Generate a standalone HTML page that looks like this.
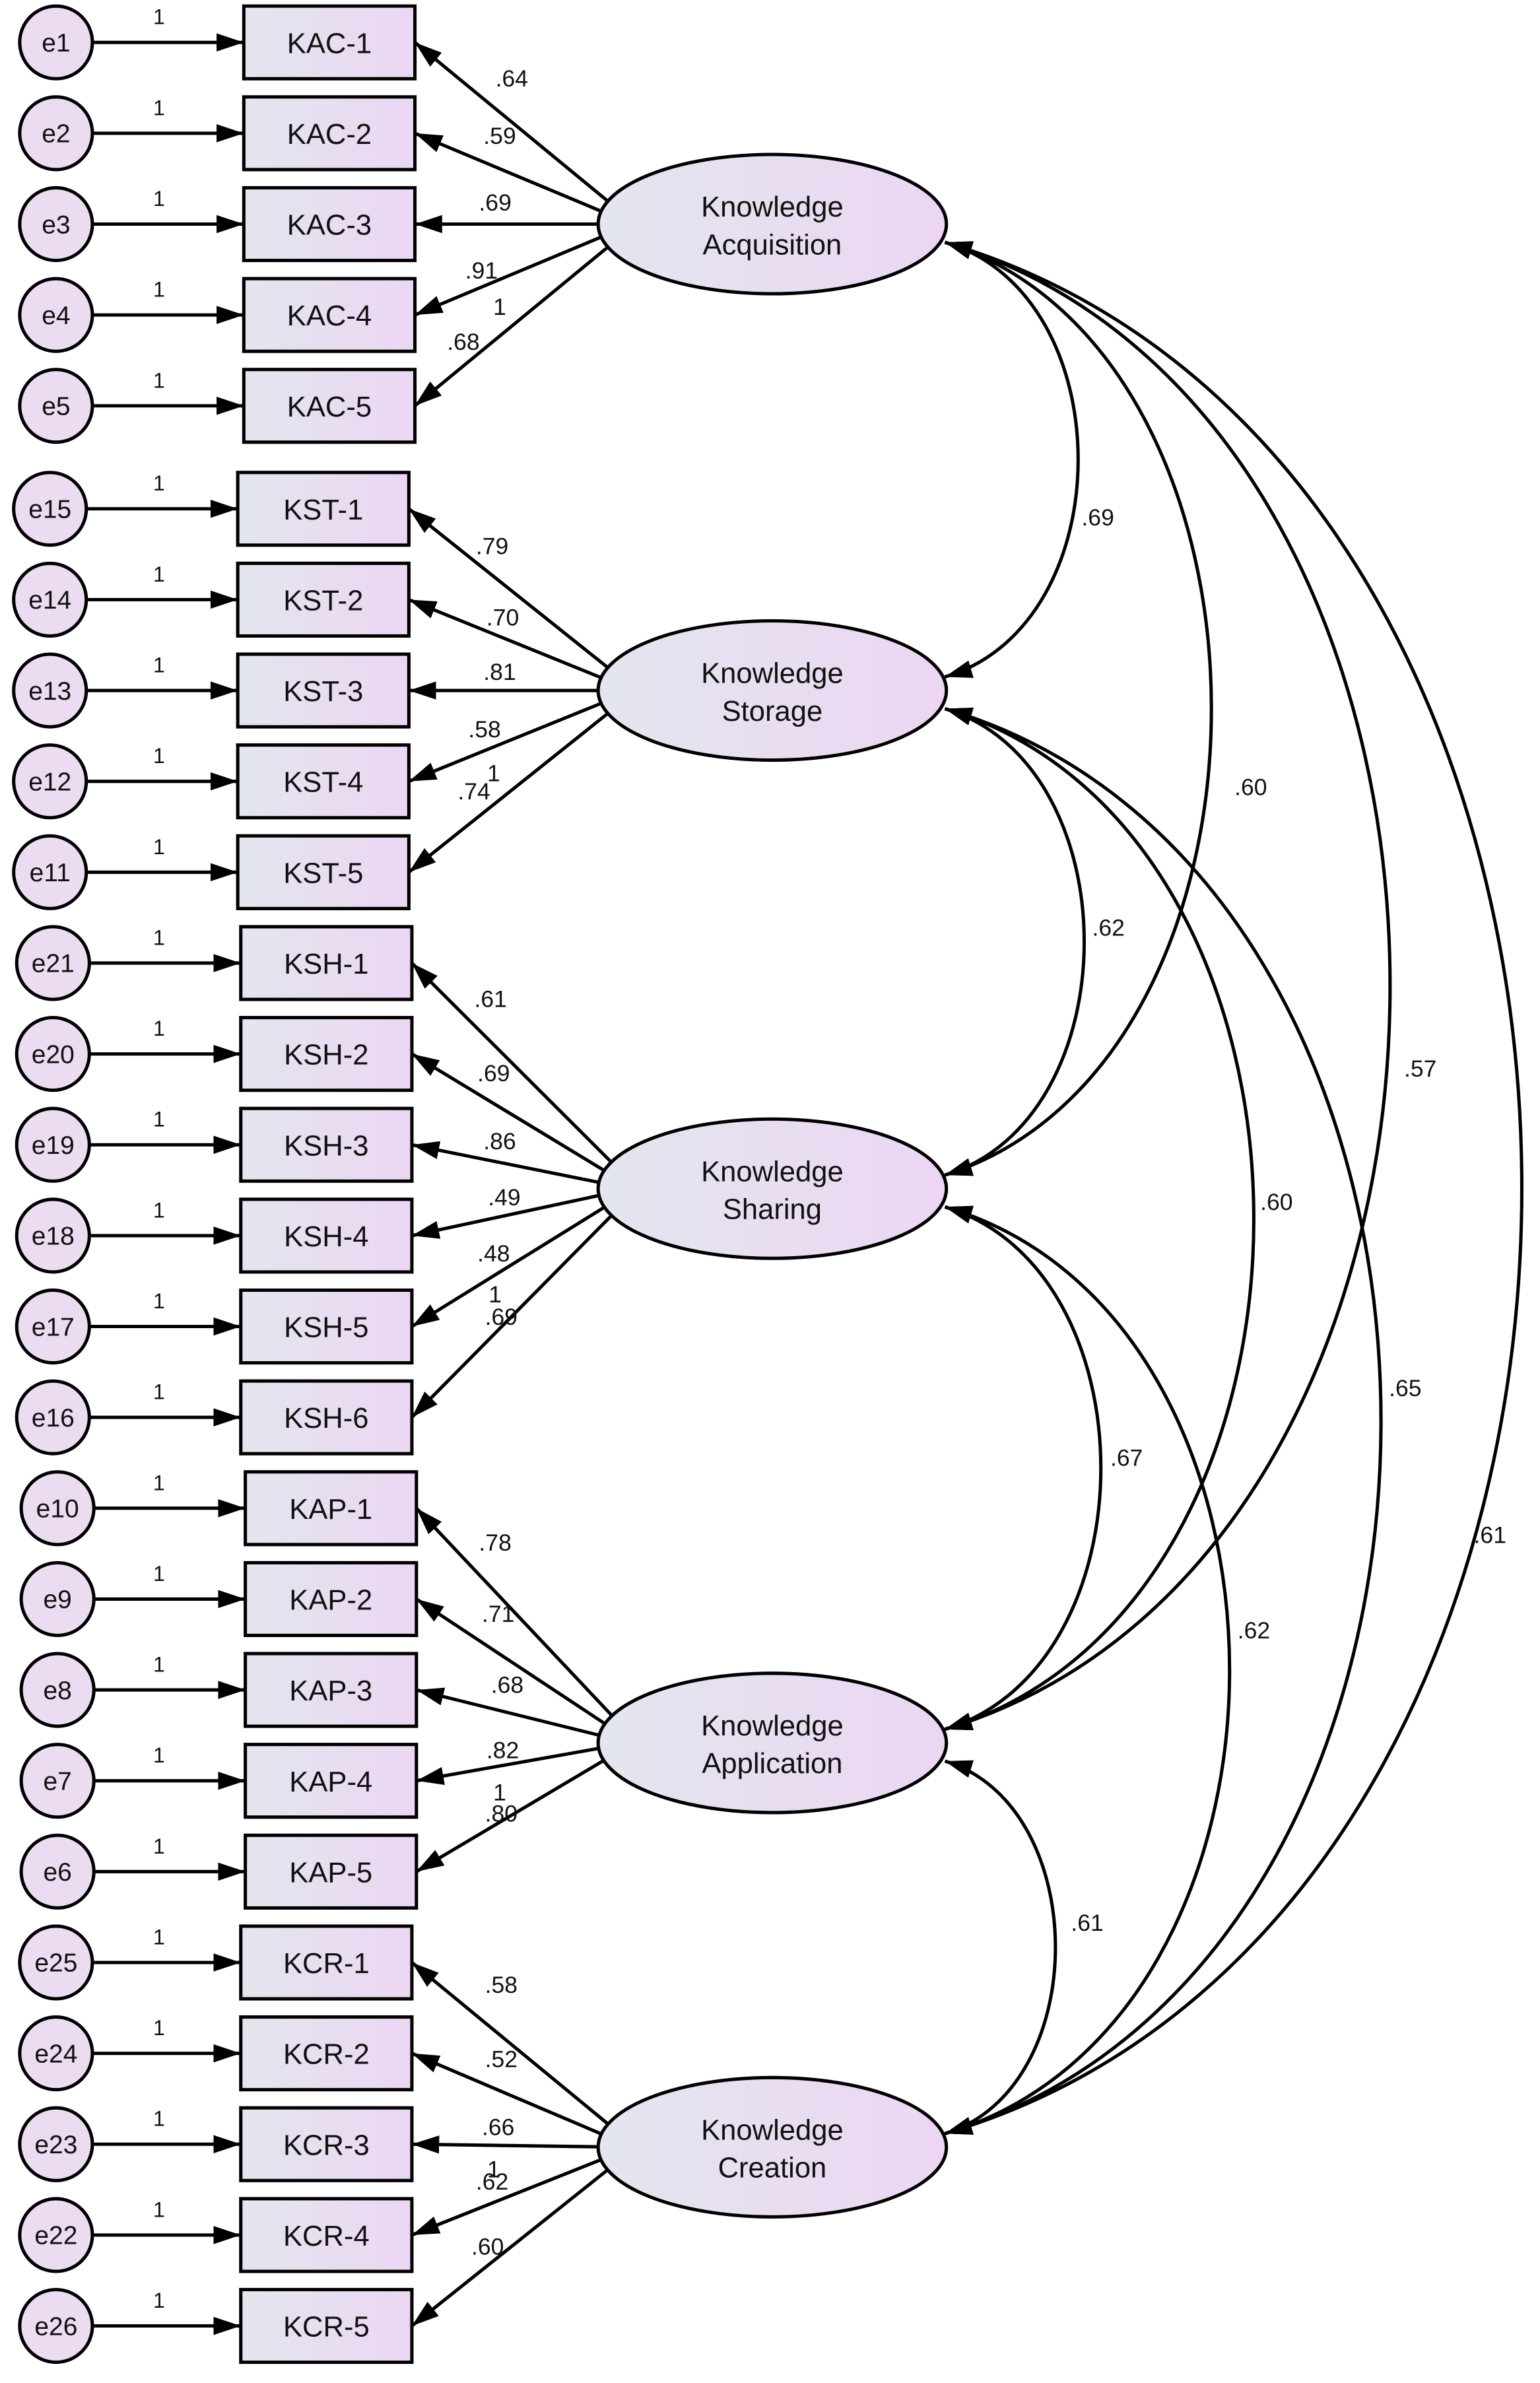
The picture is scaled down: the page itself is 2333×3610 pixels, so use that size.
<!DOCTYPE html>
<html><head><meta charset="utf-8"><style>html,body{margin:0;padding:0;background:#fff}svg{display:block}</style></head>
<body>
<svg xmlns="http://www.w3.org/2000/svg" width="2333" height="3610" viewBox="0 0 1017 1573.7" font-family="Liberation Sans, Arial, sans-serif">
<defs>
<linearGradient id="g" x1="0" x2="1" y1="0" y2="0"><stop offset="0" stop-color="#e3e6ee"/><stop offset="1" stop-color="#ecd6f3"/></linearGradient>
<marker id="a" viewBox="0 0 18 12" refX="18" refY="6" markerWidth="18" markerHeight="12" markerUnits="userSpaceOnUse" orient="auto-start-reverse"><path d="M0,0 L18,6 L0,12 z" fill="#000"/></marker>
</defs>
<g id="content" stroke="#000" stroke-width="2.2" fill="none"></g>
<script>
(function(){
var NS="http://www.w3.org/2000/svg",g=document.getElementById('content');
function el(t,a,txt){var e=document.createElementNS(NS,t);for(var k in a)e.setAttribute(k,a[k]);if(txt!=null)e.textContent=txt;g.appendChild(e);return e;}
function text(x,y,s,size){el('text',{x:x,y:y,'font-size':size||15,fill:'#111',stroke:'none','text-anchor':'middle'},s);}
var groups=[
 {name:['Knowledge','Acquisition'],cy:148,bx:161,ex:37,rows:[['e1','KAC-1',28],['e2','KAC-2',88],['e3','KAC-3',148],['e4','KAC-4',208],['e5','KAC-5',268]],
  labs:[['.64',338,57],['.59',330,95],['.69',327,139],['.91',318,184],['1',330,208],['.68',306,231]]},
 {name:['Knowledge','Storage'],cy:456,bx:157,ex:33,rows:[['e15','KST-1',336],['e14','KST-2',396],['e13','KST-3',456],['e12','KST-4',516],['e11','KST-5',576]],
  labs:[['.79',325,366],['.70',332,413],['.81',330,449],['.58',320,487],['1',326,516],['.74',313,528]]},
 {name:['Knowledge','Sharing'],cy:785,bx:159,ex:35,rows:[['e21','KSH-1',636],['e20','KSH-2',696],['e19','KSH-3',756],['e18','KSH-4',816],['e17','KSH-5',876],['e16','KSH-6',936]],
  labs:[['.61',324,665],['.69',326,714],['.86',330,759],['.49',333,796],['.48',326,833],['1',327,860],['.69',331,875]]},
 {name:['Knowledge','Application'],cy:1151,bx:162,ex:38,rows:[['e10','KAP-1',996],['e9','KAP-2',1056],['e8','KAP-3',1116],['e7','KAP-4',1176],['e6','KAP-5',1236]],
  labs:[['.78',327,1024],['.71',329,1071],['.68',335,1118],['.82',332,1161],['1',330,1189],['.80',331,1203]]},
 {name:['Knowledge','Creation'],cy:1418,bx:159,ex:37,rows:[['e25','KCR-1',1296],['e24','KCR-2',1356],['e23','KCR-3',1416],['e22','KCR-4',1476],['e26','KCR-5',1536]],
  labs:[['.58',331,1316],['.52',331,1365],['.66',329,1410],['1',326,1438],['.62',325,1446],['.60',322,1489]]}
];
groups.forEach(function(G){
 var lx=398;
 G.rows.forEach(function(r){
  var y=r[2];
  el('line',{x1:G.ex+24,y1:y,x2:G.bx,y2:y,'marker-end':'url(#a)'});
  el('circle',{cx:G.ex,cy:y,r:24,fill:'#ecdcf1'});
  text(G.ex,y+6,r[0],17);
  text(105,y-12,'1',14);
  var dy=(y-G.cy)*0.12;
  el('line',{x1:lx+Math.abs(dy)*0.3,y1:G.cy+dy,x2:G.bx+113,y2:y,'marker-end':'url(#a)'});
  el('rect',{x:G.bx,y:y-24,width:113,height:48,fill:'url(#g)'});
  text(G.bx+56.5,y+7,r[1],19);
 });
 G.labs.forEach(function(l){text(l[1],l[2],l[0],15.5);});
 el('ellipse',{cx:510,cy:G.cy,rx:115,ry:46,fill:'url(#g)'});
 text(510,G.cy-5,G.name[0],19);text(510,G.cy+20,G.name[1],19);
});
var cys=groups.map(function(G){return G.cy;});
var covs=[[0,1,712,'.69',725,347],[0,2,800,'.60',826,525],[0,3,918,'.57',938,711],[0,4,1005,'.61',984,1019],
 [1,2,716,'.62',732,618],[1,3,828,'.60',843,799],[1,4,912,'.65',928,922],[2,3,727,'.67',744,968],[2,4,812,'.62',828,1082],[3,4,697,'.61',718,1275]];
covs.forEach(function(c){
 var y1=cys[c[0]]+12,y2=cys[c[1]]-9,x=624,b=c[2];
 var cx=x+(b-x)/0.75,k=(y2-y1)*0.12;
 el('path',{d:'M'+x+','+y1+' C'+cx+','+(y1+k)+' '+cx+','+(y2-k)+' '+x+','+y2,'marker-start':'url(#a)','marker-end':'url(#a)'});
 text(c[4],c[5],c[3],15.5);
});
})();
</script>
</svg>
</body></html>
